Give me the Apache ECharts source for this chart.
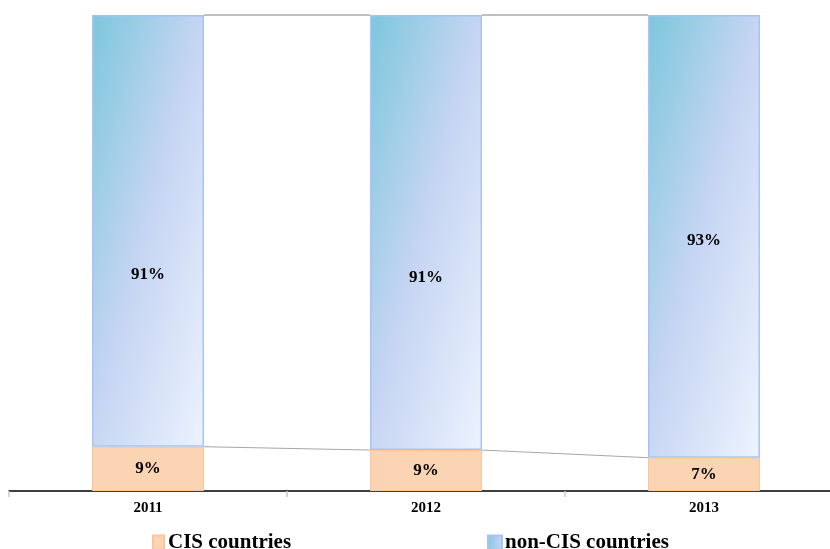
<!DOCTYPE html>
<html>
<head>
<meta charset="utf-8">
<script src="https://cdn.jsdelivr.net/npm/echarts@6/dist/echarts.min.js"></script>
<style>html,body{margin:0;padding:0;background:#fff}#c{width:830px;height:549px}</style>
</head>
<body>
<div id="c"></div>
<script>
const categories = ['2011', '2012', '2013'];
const cisShare = [9.3, 8.6, 7.0];
const nonCisShare = [90.7, 91.4, 93.0];
const seriesNames = ['CIS countries', 'non-CIS countries'];

const chart = echarts.init(document.getElementById('c'), null, {renderer: 'canvas'});
const serif = '"Liberation Serif", "Times New Roman", serif';
const half = 56;
const nonCisShift = [44, 45, 4];

function connector(values, color) {
  const data = [];
  for (let i = 0; i < values.length - 1; i++) data.push([i, values[i], values[i + 1]]);
  return {
    type: 'custom', coordinateSystem: 'cartesian2d', silent: true, z: 1,
    encode: {x: 0, y: 1},
    data: data,
    renderItem: function (params, api) {
      const p1 = api.coord([api.value(0), api.value(1)]);
      const p2 = api.coord([api.value(0) + 1, api.value(2)]);
      return {type: 'line', shape: {x1: p1[0] + half, y1: p1[1], x2: p2[0] - half, y2: p2[1]},
        style: {stroke: color, lineWidth: 1}};
    }
  };
}

const totals = cisShare.map((v, i) => v + nonCisShare[i]);

chart.setOption({
  animation: false,
  grid: {left: 9, top: 15, width: 834, height: 476, containLabel: false, outerBoundsMode: 'none'},
  legend: [
    {left: 147, top: 527, padding: 5, icon: 'rect', itemWidth: 11, itemHeight: 14, itemGap: 0,
     data: [seriesNames[0]], textStyle: {fontFamily: serif, fontWeight: 'bold', fontSize: 21, color: '#000', padding: [0, 0, 0, -1]}},
    {left: 482, top: 527, padding: 5, icon: 'rect', itemWidth: 14, itemHeight: 14, itemGap: 0,
     data: [seriesNames[1]], textStyle: {fontFamily: serif, fontWeight: 'bold', fontSize: 21, color: '#000', padding: [0, 0, 0, -2]}}
  ],
  xAxis: {
    type: 'category', data: categories, boundaryGap: true,
    axisLine: {lineStyle: {color: '#000', width: 1.5}},
    axisTick: {show: true, length: 6, lineStyle: {color: '#c8c8c8', width: 1.5}},
    axisLabel: {fontFamily: serif, fontWeight: 'bold', fontSize: 15, color: '#000', margin: 10}
  },
  yAxis: {type: 'value', min: 0, max: 100, show: false, splitLine: {show: false}},
  series: [
    {
      name: seriesNames[0], type: 'bar', stack: 'a', barWidth: 112, z: 2,
      data: cisShare,
      itemStyle: {color: '#fbd4b3', borderColor: '#f8c59c', borderWidth: 1},
      label: {show: true, position: 'inside', fontFamily: serif, fontWeight: 'bold', fontSize: 17, color: '#000',
        formatter: p => Math.round(p.value) + '%'}
    },
    {
      name: seriesNames[1], type: 'bar', stack: 'a', barWidth: 112, z: 2,
      data: nonCisShare.map((v, i) => ({value: v, label: {offset: [0, nonCisShift[i]]}})),
      itemStyle: {
        color: new echarts.graphic.LinearGradient(0, 0, 1.87, 0.13, [
          {offset: 0, color: '#7cc7dc'},
          {offset: 0.5, color: '#c6d5f3'},
          {offset: 1, color: '#ebf2fe'}
        ]),
        borderColor: '#a9c3f3', borderWidth: 1.5
      },
      label: {show: true, position: 'inside', fontFamily: serif, fontWeight: 'bold', fontSize: 17, color: '#000',
        formatter: p => Math.round(p.value) + '%'}
    },
    connector(totals, '#7f7f7f'),
    connector(cisShare, '#a6a6a6')
  ]
});
</script>
</body>
</html>
